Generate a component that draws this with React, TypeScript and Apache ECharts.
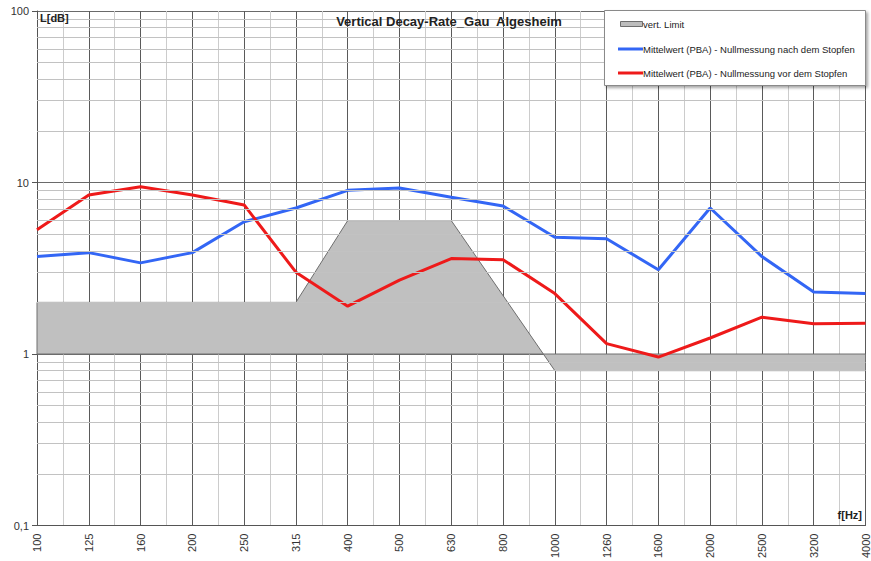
import { useEffect, useRef } from "react";
import * as echarts from "echarts";

// Third-octave band centre frequencies (Hz)
const freqs = ["100", "125", "160", "200", "250", "315", "400", "500", "630", "800", "1000", "1260", "1600", "2000", "2500", "3200", "4000"];

// Decay rate L[dB] per band
const afterTamping = [3.7, 3.9, 3.4, 3.9, 5.9, 7.1, 9.0, 9.3, 8.2, 7.3, 4.8, 4.7, 3.1, 7.1, 3.7, 2.3, 2.25];
const beforeTamping = [5.3, 8.45, 9.45, 8.45, 7.4, 3.0, 1.9, 2.7, 3.6, 3.55, 2.25, 1.15, 0.96, 1.24, 1.64, 1.5, 1.51];

// Vertical limit band outline as [band index, level]
const limitOutline = [[0, 1], [0, 2], [5, 2], [6, 6], [8, 6], [10, 0.8], [16, 0.8], [16, 1], [0, 1]];

// Level range of the log axis and its minor grid levels
const yMin = 0.1;
const yMax = 100;
const minorLevels: number[] = [];
[0.1, 1, 10].forEach((d) => {
  for (let k = 2; k <= 9; k++) minorLevels.push(+(k * d).toFixed(2));
});

const FONT = "Liberation Sans, Arial, sans-serif";
const BLUE = "#3366f5";
const RED = "#ee1a1a";

export default function App() {
  const ref = useRef<HTMLDivElement>(null);

  useEffect(() => {
    if (!ref.current) return;
    const chart = echarts.init(ref.current, undefined, { renderer: "svg" });

    chart.setOption({
      animation: false,
      backgroundColor: "#ffffff",
      textStyle: { fontFamily: FONT },
      grid: { left: 37, right: 1, top: 11, bottom: 34.5, containLabel: false },
      xAxis: {
        type: "value",
        min: 0,
        max: 16,
        interval: 1,
        axisLine: { show: true, lineStyle: { color: "#555", width: 1 } },
        axisTick: { show: false },
        axisLabel: {
          rotate: 90,
          margin: 8,
          fontSize: 11,
          color: "#333",
          fontFamily: FONT,
          formatter: (v: number) => freqs[v] ?? "",
        },
        splitLine: { show: true, lineStyle: { color: "#5a5a5a", width: 1 } },
        minorTick: { show: false, splitNumber: 2 },
        minorSplitLine: { show: true, lineStyle: { color: "#cccccc", width: 1 } },
      },
      yAxis: {
        type: "log",
        logBase: 10,
        min: yMin,
        max: yMax,
        axisLine: { show: true, lineStyle: { color: "#555", width: 1 } },
        axisTick: { show: true, length: 5, lineStyle: { color: "#555" } },
        axisLabel: {
          margin: 8,
          fontSize: 11,
          color: "#333",
          fontFamily: FONT,
          formatter: (v: number) => (v < 1 ? String(v).replace(".", ",") : String(v)),
        },
        splitLine: { show: true, lineStyle: { color: "#6a6a6a", width: 1 } },
      },
      series: [
        {
          // minor horizontal grid of the log axis
          type: "line",
          name: "grid",
          data: [],
          z: 1,
          silent: true,
          markLine: {
            silent: true,
            symbol: "none",
            label: { show: false },
            lineStyle: { color: "#c2c2c2", type: "solid", width: 1 },
            data: minorLevels.map((v) => ({ yAxis: v })),
          },
        },
        {
          type: "custom",
          name: "vert. Limit",
          z: 2,
          silent: true,
          data: limitOutline,
          renderItem: (params: any, api: any) => {
            if (params.dataIndex !== 0) return null;
            const pts = limitOutline.map((p) => api.coord(p));
            return {
              type: "polygon",
              shape: { points: pts },
              style: { fill: "#c0c0c0", stroke: "#6e6e6e", lineWidth: 1 },
            };
          },
        },
        {
          type: "line",
          name: "Mittelwert (PBA) - Nullmessung nach dem Stopfen",
          z: 3,
          data: afterTamping.map((v, i) => [i, v]),
          symbol: "none",
          lineStyle: { color: BLUE, width: 3 },
          itemStyle: { color: BLUE },
        },
        {
          type: "line",
          name: "Mittelwert (PBA) - Nullmessung vor dem Stopfen",
          z: 3,
          data: beforeTamping.map((v, i) => [i, v]),
          symbol: "none",
          lineStyle: { color: RED, width: 3 },
          itemStyle: { color: RED },
        },
      ],
      graphic: [
        {
          type: "text",
          x: 449,
          y: 21,
          z: 10,
          style: {
            text: "Vertical Decay-Rate_Gau\u00a0 Algesheim",
            fontFamily: FONT,
            fontSize: 13,
            fontWeight: "bold",
            fill: "#222",
            textAlign: "center",
            textVerticalAlign: "middle",
          },
        },
        {
          type: "text",
          x: 40,
          y: 18,
          z: 10,
          style: {
            text: "L[dB]",
            fontFamily: FONT,
            fontSize: 11,
            fontWeight: "bold",
            fill: "#222",
            textVerticalAlign: "middle",
          },
        },
        {
          type: "text",
          x: 862,
          y: 515,
          z: 10,
          style: {
            text: "f[Hz]",
            fontFamily: FONT,
            fontSize: 11,
            fontWeight: "bold",
            fill: "#222",
            textAlign: "right",
            textVerticalAlign: "middle",
          },
        },
        // legend box
        {
          type: "rect",
          z: 10,
          shape: { x: 604.5, y: 10.5, width: 261, height: 75 },
          style: {
            fill: "#ffffff",
            stroke: "#8a8a8a",
            lineWidth: 1,
            shadowBlur: 3,
            shadowOffsetX: 2,
            shadowOffsetY: 2,
            shadowColor: "rgba(0,0,0,0.35)",
          },
        },
        {
          type: "rect",
          z: 11,
          shape: { x: 620.5, y: 21.5, width: 22, height: 5 },
          style: { fill: "#bdbdbd", stroke: "#6e6e6e", lineWidth: 1 },
        },
        {
          type: "text",
          x: 643,
          y: 24,
          z: 11,
          style: { text: "vert. Limit", fontFamily: FONT, fontSize: 9.5, fill: "#222", textVerticalAlign: "middle" },
        },
        {
          type: "line",
          z: 11,
          shape: { x1: 618, y1: 49, x2: 643, y2: 49 },
          style: { stroke: BLUE, lineWidth: 3 },
        },
        {
          type: "text",
          x: 643,
          y: 49,
          z: 11,
          style: {
            text: "Mittelwert (PBA) - Nullmessung nach dem Stopfen",
            fontFamily: FONT,
            fontSize: 9.5,
            fill: "#222",
            textVerticalAlign: "middle",
          },
        },
        {
          type: "line",
          z: 11,
          shape: { x1: 618, y1: 73, x2: 643, y2: 73 },
          style: { stroke: RED, lineWidth: 3 },
        },
        {
          type: "text",
          x: 643,
          y: 73,
          z: 11,
          style: {
            text: "Mittelwert (PBA) - Nullmessung vor dem Stopfen",
            fontFamily: FONT,
            fontSize: 9.5,
            fill: "#222",
            textVerticalAlign: "middle",
          },
        },
      ],
    });

    return () => chart.dispose();
  }, []);

  return (
    <div
      ref={ref}
      style={{ position: "fixed", left: 0, top: 0, width: 871, height: 561, background: "#fff" }}
    />
  );
}
